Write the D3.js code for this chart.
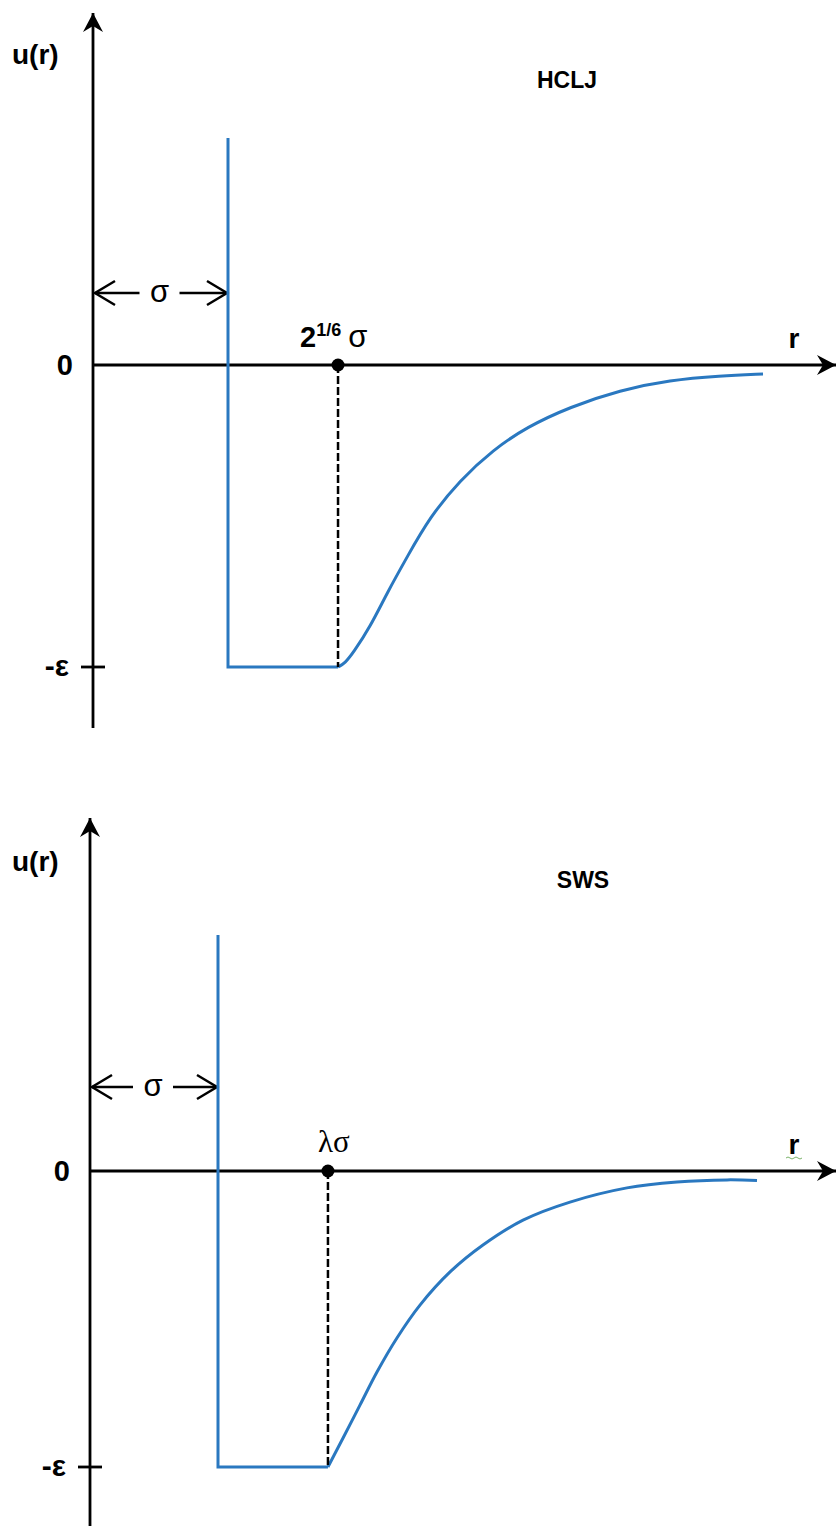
<!DOCTYPE html>
<html>
<head>
<meta charset="utf-8">
<script src="https://cdn.jsdelivr.net/npm/d3@7"></script>
<style>
  body { margin: 0; background: #fff; }
  text { font-family: "Liberation Sans", Arial, sans-serif; fill: #000; }
</style>
</head>
<body>
<div id="chart"></div>
<script>
// r in units of sigma, u in units of epsilon
var hcljR = [1.815, 1.867, 1.926, 2.052, 2.178, 2.326, 2.496, 2.719, 2.963, 3.215, 3.533, 3.904, 4.274, 4.644, 4.963];
var hcljU = [-1.0, -0.987, -0.954, -0.868, -0.755, -0.636, -0.503, -0.381, -0.281, -0.205, -0.139, -0.083, -0.050, -0.036, -0.030];
var swsR = [1.859, 1.977, 2.109, 2.242, 2.398, 2.578, 2.813, 3.070, 3.383, 3.750, 4.195, 4.586, 4.977, 5.211];
var swsU = [-1.0, -0.902, -0.791, -0.679, -0.564, -0.453, -0.341, -0.250, -0.166, -0.105, -0.057, -0.037, -0.030, -0.032];
var wallTop = [0.752, 0.797];     // height of the hard wall at r = sigma
var minR = [1.815, 1.859];        // 2^(1/6) sigma, lambda sigma (as drawn)
var titles = ["HCLJ", "SWS"];
var tickLabels = ["0", "-\u03b5"];

var W = 838, H = 1526;
var svg = d3.select("#chart").append("svg").attr("width", W).attr("height", H);

var defs = svg.append("defs");
defs.append("marker")
  .attr("id", "head")
  .attr("markerUnits", "userSpaceOnUse")
  .attr("viewBox", "-20 -11 22 22")
  .attr("refX", 0).attr("refY", 0)
  .attr("markerWidth", 22).attr("markerHeight", 22)
  .attr("orient", "auto")
  .append("path")
  .attr("d", "M0,0 L-19,-10 L-13,0 L-19,10 Z")
  .attr("fill", "#000");

// panel geometry
var panels = [
  { ax: 93, wall: 228, zero: 365, eps: 667, top: 13, bottom: 728, arrowY: 293,
    R: hcljR, U: hcljU, title: titles[0], tx: 567, ty: 88, uy: 64, curve: d3.curveBasis },
  { ax: 90, wall: 218, zero: 1171, eps: 1467, top: 818, bottom: 1526, arrowY: 1087,
    R: swsR, U: swsU, title: titles[1], tx: 583, ty: 888, uy: 871, curve: d3.curveCatmullRom }
];

panels.forEach(function(p, i) {
  var x = d3.scaleLinear().domain([0, 1]).range([p.ax, p.wall]);
  var y = d3.scaleLinear().domain([-1, 0]).range([p.eps, p.zero]);
  var g = svg.append("g");

  // axes
  g.append("line").attr("x1", x(0)).attr("x2", x(0)).attr("y1", p.bottom).attr("y2", p.top)
    .attr("stroke", "#000").attr("stroke-width", 2.8).attr("marker-end", "url(#head)");
  g.append("line").attr("x1", x(0)).attr("x2", 836).attr("y1", y(0)).attr("y2", y(0))
    .attr("stroke", "#000").attr("stroke-width", 2.8).attr("marker-end", "url(#head)");

  // -eps tick
  g.append("line").attr("x1", x(0) - 12).attr("x2", x(0) + 12).attr("y1", y(-1)).attr("y2", y(-1))
    .attr("stroke", "#000").attr("stroke-width", 2.8);

  g.append("text").attr("x", x(0) - 20).attr("y", y(0) + 10)
    .attr("text-anchor", "end").attr("font-size", 29).attr("font-weight", "bold").text(tickLabels[0]);
  g.append("text").attr("x", x(0) - 24).attr("y", y(-1) + 9)
    .attr("text-anchor", "end").attr("font-size", 30).attr("font-weight", "bold").text(tickLabels[1]);

  g.append("text").attr("x", 12).attr("y", p.uy)
    .attr("font-size", 28).attr("font-weight", "bold").text("u(r)");
  g.append("text").attr("x", 794).attr("y", y(0) - 17)
    .attr("text-anchor", "middle").attr("font-size", 28).attr("font-weight", "bold").text("r");
  g.append("text").attr("x", p.tx).attr("y", p.ty)
    .attr("text-anchor", "middle").attr("font-size", 23).attr("font-weight", "bold").text(p.title);

  // sigma span arrows
  var ay = p.arrowY;
  var sx = (x(0) + x(1)) / 2 - 1;
  [[x(0) + 2, sx - 20], [x(1) - 1, sx + 20]].forEach(function(s) {
    var dir = s[0] < s[1] ? 1 : -1;
    g.append("line").attr("x1", s[0]).attr("x2", s[1]).attr("y1", ay).attr("y2", ay)
      .attr("stroke", "#000").attr("stroke-width", 2.5);
    g.append("path")
      .attr("d", "M" + (s[0] + dir * 20) + "," + (ay - 12) + " L" + s[0] + "," + ay + " L" + (s[0] + dir * 20) + "," + (ay + 12))
      .attr("fill", "none").attr("stroke", "#000").attr("stroke-width", 2.5);
  });
  g.append("text").attr("x", sx).attr("y", ay + 9)
    .attr("text-anchor", "middle").attr("font-size", 31).text("\u03c3");

  // potential: hard wall, well floor, tail
  var blue = "#2a78c0";
  var m = minR[i];
  g.append("path")
    .attr("d", d3.line()([[x(1), y(wallTop[i])], [x(1), y(-1)], [x(m), y(-1)]]))
    .attr("fill", "none").attr("stroke", blue).attr("stroke-width", 3);

  var pts = p.R.map(function(r, k) { return [x(r), y(p.U[k])]; });
  g.append("path")
    .attr("d", d3.line().curve(p.curve)(pts))
    .attr("fill", "none").attr("stroke", blue).attr("stroke-width", 3);

  // dashed marker at the minimum
  g.append("line").attr("x1", x(m)).attr("x2", x(m)).attr("y1", y(0)).attr("y2", y(-1))
    .attr("stroke", "#000").attr("stroke-width", 2.5).attr("stroke-dasharray", "8,3");
  g.append("circle").attr("cx", x(m)).attr("cy", y(0)).attr("r", 6.5).attr("fill", "#000");

  if (i === 0) {
    var t = g.append("text").attr("x", x(m) - 38).attr("y", y(0) - 18).attr("font-size", 29).attr("font-weight", "bold");
    t.append("tspan").text("2");
    t.append("tspan").attr("font-size", 18).attr("dy", -11).text("1/6");
    t.append("tspan").attr("dy", 11).attr("dx", 7).attr("font-size", 31).attr("font-weight", "normal").text("\u03c3");
  } else {
    g.append("text").attr("x", x(m) + 6).attr("y", y(0) - 19)
      .attr("text-anchor", "middle").attr("font-size", 31)
      .style("font-family", "'Liberation Serif', serif").text("\u03bb\u03c3");
    // spell-check squiggle under r
    g.append("path")
      .attr("d", "M786," + (y(0) - 13) + " q2,-2 4,0 t4,0 t4,0 t4,0")
      .attr("fill", "none").attr("stroke", "#7bb36a").attr("stroke-width", 1);
  }
});
</script>
</body>
</html>
